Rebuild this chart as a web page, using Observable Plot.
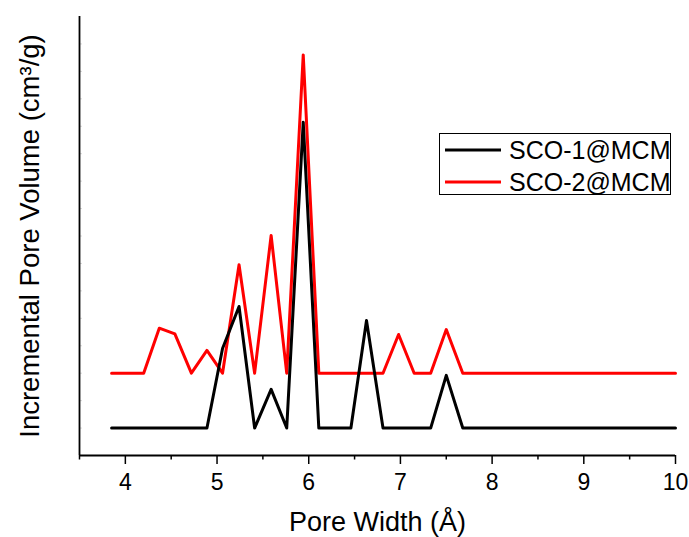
<!DOCTYPE html>
<html>
<head>
<meta charset="utf-8">
<script src="https://cdn.jsdelivr.net/npm/d3@7"></script>
<script src="https://cdn.jsdelivr.net/npm/@observablehq/plot@0.6"></script>
<style>
  html, body { margin: 0; padding: 0; background: #fff; }
  #wrap { position: relative; width: 689px; height: 537px; font-family: "Liberation Sans", Arial, sans-serif; }
  #legend { position: absolute; left: 439px; top: 133px; width: 232px; height: 62px; box-sizing: border-box;
            border: 1.2px solid #000; background: #fff; }
  .item { position: absolute; left: 0; height: 30px; display: flex; align-items: center; white-space: nowrap; }
  .item svg { margin-left: 5px; flex: none; }
  .item span { margin-left: 8px; font-size: 25px; color: #000; line-height: 30px; white-space: nowrap; }
</style>
</head>
<body>
<div id="wrap"></div>
<script>
// ---- data ----
const poreWidth = [3.85, 4.02, 4.2, 4.37, 4.54, 4.72, 4.89, 5.06, 5.24, 5.41, 5.59, 5.76, 5.94, 6.11, 6.28, 6.46, 6.63, 6.81, 6.98, 7.15, 7.33, 7.5, 7.68, 10];
const sco1 = [1, 1, 1, 1, 1, 1, 1, 3.9, 5.43, 1, 2.41, 1, 12.15, 1, 1, 1, 4.92, 1, 1, 1, 1, 2.92, 1, 1];
const sco2 = [3, 3, 3, 4.64, 4.43, 3, 3.83, 3, 6.95, 3, 8.02, 3, 14.6, 3, 3, 3, 3, 3, 4.41, 3, 3, 4.59, 3, 3];
const seriesNames = ["SCO-1@MCM", "SCO-2@MCM"];
const seriesColors = ["#000000", "#ff0000"];
const xTicks = [4, 5, 6, 7, 8, 9, 10];
const xMinorTicks = [3.5, 4.5, 5.5, 6.5, 7.5, 8.5, 9.5];
const yMinorTicks = [1, 2, 3, 4, 5, 6, 7, 8, 9, 10, 11, 12, 13, 14, 15];
const xDomain = [3.5, 10];
const yDomain = [0, 16];

const data1 = poreWidth.map((x, i) => ({x, y: sco1[i]}));
const data2 = poreWidth.map((x, i) => ({x, y: sco2[i]}));

const chart = Plot.plot({
  width: 689,
  height: 537,
  marginLeft: 79,
  marginRight: 14,
  marginTop: 16,
  marginBottom: 82,
  style: {fontFamily: "'Liberation Sans', Arial, sans-serif", color: "#000", background: "#fff", overflow: "visible"},
  x: {domain: xDomain},
  y: {domain: yDomain},
  marks: [
    Plot.axisY({ticks: yMinorTicks, tickSize: 3, dx: 3, tickFormat: () => "", stroke: "#d8d8d8", label: null}),
    Plot.axisX({ticks: xMinorTicks, tickSize: 4.5, tickFormat: () => "", strokeWidth: 1.5, label: null}),
    Plot.axisX({ticks: xTicks, tickSize: 9, tickPadding: 9, fontSize: 23, strokeWidth: 1.5, tickFormat: d => String(d), label: null}),
    Plot.ruleX([xDomain[0]], {stroke: "#000", strokeWidth: 1.8}),
    Plot.ruleY([yDomain[0]], {stroke: "#000", strokeWidth: 1.8}),
    Plot.line(data2, {x: "x", y: "y", stroke: seriesColors[1], strokeWidth: 3}),
    Plot.line(data1, {x: "x", y: "y", stroke: seriesColors[0], strokeWidth: 3}),
    Plot.text(["Pore Width (Å)"], {frameAnchor: "bottom", dy: 67, lineAnchor: "middle", fontSize: 27, fill: "#000"}),
    Plot.text(["Incremental Pore Volume (cm³/g)"], {frameAnchor: "left", dx: -49, rotate: -90, lineAnchor: "middle", textAnchor: "middle", fontSize: 27.5, fill: "#000"})
  ]
});

const wrap = document.getElementById("wrap");
wrap.appendChild(chart);

const legend = document.createElement("div");
legend.id = "legend";
seriesNames.forEach((name, i) => {
  const item = document.createElement("div");
  item.className = "item";
  item.style.top = (i === 0 ? 1 : 32.5) + "px";
  item.innerHTML = `<svg width="56" height="6"><line x1="0" x2="56" y1="3" y2="3" stroke="${seriesColors[i]}" stroke-width="3"/></svg><span>${name}</span>`;
  legend.appendChild(item);
});
wrap.appendChild(legend);
</script>
</body>
</html>
